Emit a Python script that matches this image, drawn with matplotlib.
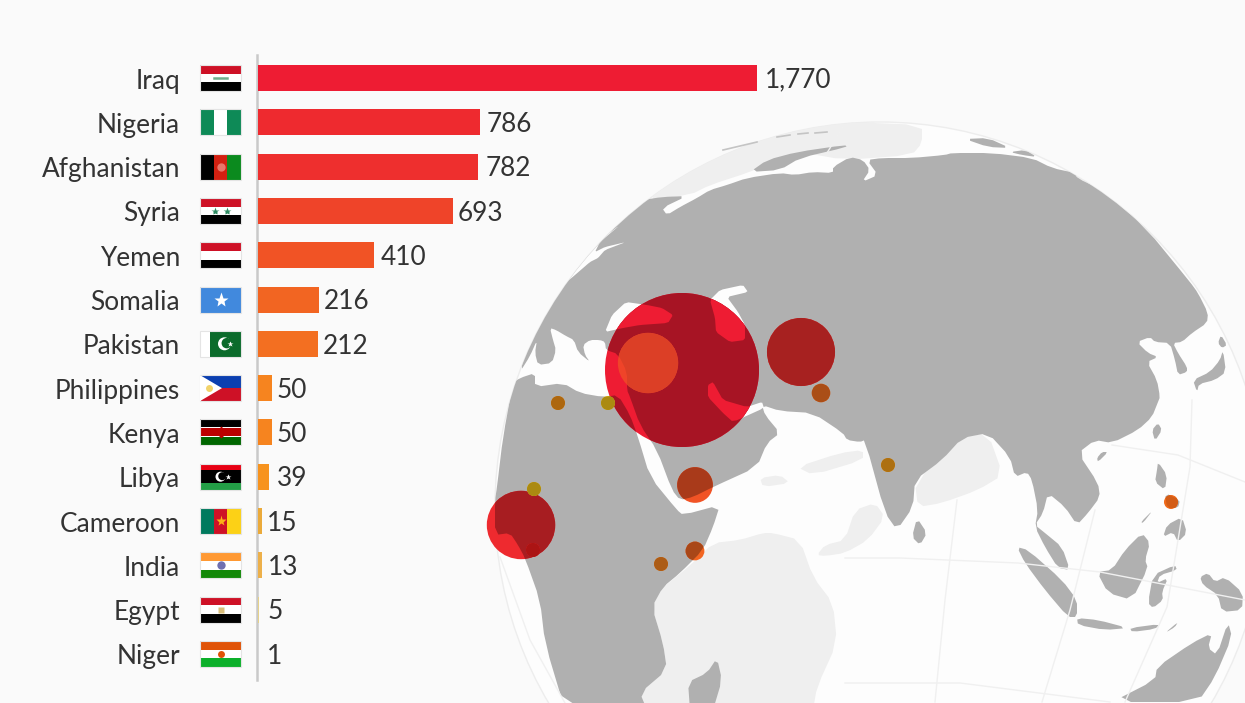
import matplotlib
matplotlib.use('Agg')
import matplotlib.pyplot as plt
from matplotlib.patches import Circle, Polygon, Rectangle

plt.rcParams['font.family'] = ['Lato', 'DejaVu Sans']

# chart data
countries = ['Iraq', 'Nigeria', 'Afghanistan', 'Syria', 'Yemen', 'Somalia', 'Pakistan',
             'Philippines', 'Kenya', 'Libya', 'Cameroon', 'India', 'Egypt', 'Niger']
values = [1770, 786, 782, 693, 410, 216, 212, 50, 50, 39, 15, 13, 5, 1]
bar_colors = ['#EE1C33', '#EE2A2F', '#EE2F2E', '#EF4429', '#F15325', '#F26522', '#F36F21',
              '#F6841F', '#F6841F', '#F7931E', '#EBAA3A', '#EDB04A', '#E6D28A', '#DDD6B8']
label_pad = [8, 7, 7, 4, 7, 5, 5, 4, 4, 8, 5, 6, 8, 9]

# bubbles on the globe, same order as countries
bubble_x = [682, 521, 801, 648, 695, 695, 821, 1171, 661, 558, 533, 888, 608, 534]
bubble_y = [370, 525, 352, 363, 485, 551, 393, 502, 564, 403, 550, 465, 403, 489]
bubble_colors = ['#EE1C33', '#EE2A2F', '#EE2F2E', '#EF4429', '#F15325', '#F26522', '#F36F21',
                 '#F06A1A', '#F6841F', '#F79315', '#EE1C1C', '#F7A01A', '#F5C518', '#F5C518']
bubble_dark = [0.7, 0.7, 0.7, 0.92, 0.7, 0.7, 0.7, 0.88, 0.7, 0.7, 0.72, 0.7, 0.7, 0.7]
bubble_order = [1, 10, 0, 3, 2, 6, 4, 5, 8, 9, 12, 11, 13, 7]

# map outlines in picture pixels
eurasia = [(528, 345), (543, 310), (562, 285), (580, 257), (613, 223), (643, 200), (662, 197), (687, 196),
           (662, 208), (667, 215), (680, 207), (697, 198), (710, 190), (727, 185), (747, 178), (780, 173),
           (795, 175), (813, 172), (833, 173), (833, 167), (850, 157), (863, 160), (870, 170), (862, 182),
           (878, 175), (867, 160), (882, 158), (912, 158), (945, 155), (952, 153), (992, 153), (1032, 158),
           (1052, 168), (1075, 173), (1077, 178), (1102, 190), (1145, 227), (1190, 282), (1198, 293),
           (1208, 313), (1207, 323), (1192, 333), (1182, 342), (1173, 343), (1178, 353), (1187, 367),
           (1187, 372), (1178, 375), (1175, 360), (1170, 343), (1155, 342), (1150, 337), (1137, 342),
           (1148, 353), (1158, 357), (1147, 362), (1157, 380), (1160, 397), (1158, 402), (1152, 417),
           (1138, 430), (1112, 443), (1095, 440), (1078, 453), (1098, 483), (1100, 497), (1088, 513),
           (1077, 525), (1065, 507), (1048, 493), (1043, 513), (1035, 525), (1045, 533), (1062, 547),
           (1070, 570), (1058, 568), (1045, 547), (1035, 527), (1038, 510), (1032, 480), (1027, 472),
           (1015, 477), (1010, 457), (988, 433), (962, 438), (942, 460), (915, 480), (913, 507), (897, 530),
           (885, 513), (865, 440), (860, 442), (847, 440), (843, 433), (813, 413), (780, 411), (762, 405),
           (765, 415), (780, 433), (767, 443), (757, 467), (713, 487), (693, 497), (680, 500), (672, 490),
           (657, 450), (640, 425), (630, 397), (627, 390), (627, 372), (618, 354), (606, 350), (605, 342),
           (600, 340), (590, 340), (583, 345), (585, 355), (590, 362), (578, 352), (574, 340), (566, 336),
           (556, 330), (550, 328), (553, 340), (556, 350), (552, 363), (538, 365), (535, 353), (537, 340),
           (530, 356), (520, 372)]
africa = [(513, 383), (520, 378), (535, 373), (535, 387), (563, 383), (580, 393), (603, 397), (618, 395),
          (630, 415), (638, 437), (650, 477), (677, 510), (683, 515), (720, 505), (713, 527), (703, 550),
          (680, 573), (663, 587), (652, 607), (663, 643), (667, 670), (640, 693), (647, 710), (565, 710),
          (545, 643), (540, 600), (525, 558), (518, 545), (510, 533), (495, 535), (495, 500), (497, 487),
          (503, 437)]
islands = [
    [(750, 172), (767, 160), (797, 152), (845, 145), (847, 147), (800, 158), (780, 170)],
    [(965, 139), (988, 138), (1010, 148), (988, 147)],
    [(1010, 152), (1025, 150), (1037, 157), (1022, 155)],
    [(1223, 350), (1226, 372), (1215, 380), (1199, 384), (1197, 392), (1193, 380), (1210, 372), (1220, 360)],
    [(1221, 335), (1227, 345), (1222, 348), (1218, 343)],
    [(917, 518), (927, 533), (920, 545), (912, 537)],
    [(1102, 452), (1108, 452), (1098, 462), (1097, 458)],
    [(1158, 423), (1162, 430), (1155, 441), (1152, 430)],
    [(1158, 462), (1167, 475), (1165, 490), (1155, 482), (1157, 470)],
    [(1165, 493), (1180, 500), (1178, 508), (1167, 508)],
    [(1182, 517), (1187, 533), (1178, 542), (1173, 532), (1163, 537), (1167, 525)],
    [(1153, 510), (1143, 523), (1141, 522)],
    [(1142, 533), (1150, 543), (1145, 560), (1148, 568), (1132, 600), (1108, 593), (1097, 572), (1112, 570),
     (1125, 550)],
    [(1017, 547), (1028, 550), (1062, 580), (1077, 600), (1077, 617), (1068, 617), (1045, 590), (1025, 563)],
    [(1077, 618), (1098, 620), (1128, 628), (1105, 630), (1078, 625)],
    [(1130, 628), (1160, 624), (1155, 629), (1132, 632)],
    [(1165, 633), (1178, 622), (1175, 627)],
    [(1148, 603), (1153, 575), (1175, 565), (1177, 570), (1160, 575), (1157, 583), (1168, 578), (1162, 592),
     (1163, 600), (1153, 608)],
    [(1200, 577), (1208, 573), (1215, 582), (1225, 577), (1243, 593), (1242, 610), (1222, 612), (1218, 595),
     (1203, 585)],
    [(1112, 702), (1155, 680), (1157, 667), (1192, 643), (1212, 633), (1208, 648), (1217, 655), (1228, 622),
     (1232, 637), (1215, 677), (1198, 702)],
    [(717, 658), (722, 680), (713, 710), (690, 710), (688, 682), (707, 673)],
]
inland_seas = [
    [(605, 332), (612, 315), (626, 302), (647, 305), (662, 308), (673, 315), (668, 323), (640, 325), (623, 328)],
    [(710, 300), (720, 290), (743, 285), (748, 292), (727, 297), (738, 312), (745, 325), (745, 340), (730, 342),
     (716, 332), (715, 318)],
    [(708, 385), (713, 382), (723, 400), (747, 407), (762, 402), (764, 408), (733, 422), (723, 413), (708, 397)],
    [(562, 286), (575, 270), (587, 253), (600, 240), (620, 225), (600, 242), (595, 252), (605, 247), (626, 242),
     (605, 250), (598, 258), (590, 262), (575, 275)],
]
far_side = [
    [(643, 200), (680, 170), (720, 148), (780, 128), (850, 122), (922, 125), (922, 143), (912, 155), (845, 160),
     (800, 152), (750, 172), (710, 185), (690, 195)],
    [(640, 693), (667, 670), (663, 643), (652, 607), (660, 590), (693, 563), (713, 543), (740, 540), (763, 533),
     (773, 533), (800, 540), (813, 577), (833, 603), (837, 643), (817, 687), (813, 710), (643, 710)],
    [(817, 555), (825, 545), (845, 540), (855, 510), (875, 503), (885, 517), (868, 540), (845, 553), (825, 556)],
    [(915, 483), (958, 438), (988, 433), (1003, 475), (978, 490), (942, 503), (918, 507)],
    [(760, 478), (780, 475), (790, 483), (763, 487)],
    [(797, 467), (840, 453), (863, 450), (863, 460), (813, 475)],
]
grid_lines = [
    [(845, 558), (900, 558), (1018, 563), (1100, 572), (1245, 600)],
    [(845, 683), (960, 683), (1110, 702)],
    [(957, 500), (945, 600), (935, 702)],
    [(1095, 510), (1070, 610), (1042, 702)],
    [(1192, 400), (1190, 467), (1167, 607), (1125, 702)],
    [(1112, 445), (1178, 455), (1245, 482)],
    [(847, 120), (827, 153)],
    [(500, 557), (530, 640), (565, 703)],
    [(500, 600), (520, 650), (545, 703)],
]

BG = '#FAFAFA'
LAND = '#B0B0B0'
FAR = '#EFEFEF'
TXT = '#333333'
row0, row_h = 78, 44.3
px_per_unit = 499 / 1770

fig = plt.figure(figsize=(12.45, 7.03), dpi=100, facecolor=BG)

# background layer in picture pixels
ax = fig.add_axes([0, 0, 1, 1])
ax.set_xlim(0, 1245)
ax.set_ylim(703, 0)
ax.axis('off')


# cut the corners once so the coasts look less angular
def soften(poly, k=0.22):
    out = []
    for a, b in zip(poly, poly[1:] + poly[:1]):
        out.append((a[0] + k * (b[0] - a[0]), a[1] + k * (b[1] - a[1])))
        out.append((b[0] - k * (b[0] - a[0]), b[1] - k * (b[1] - a[1])))
    return out


land_polys = [soften(p) for p in [eurasia, africa] + islands]
sea_polys = [soften(p, 0.12) for p in inland_seas]

globe = Circle((880, 507), 385, fc='#FDFDFD', ec='#EDEDED', lw=1)
ax.add_patch(globe)
for poly in far_side:
    p = ax.add_patch(Polygon(soften(poly), closed=True, fc=FAR, ec='none'))
    p.set_clip_path(globe)
for line in grid_lines:
    l, = ax.plot([q[0] for q in line], [q[1] for q in line], color='#F0F0F0', lw=1)
    l.set_clip_path(globe)
for poly in land_polys:
    p = ax.add_patch(Polygon(poly, closed=True, fc=LAND, ec='none'))
    p.set_clip_path(globe)
for poly in sea_polys:
    p = ax.add_patch(Polygon(poly, closed=True, fc='#FDFDFD', ec='none'))
    p.set_clip_path(globe)
# small arctic islands
for x1, y1, x2, y2 in [(723, 150, 757, 142), (777, 137, 790, 135), (798, 134, 808, 133), (815, 133, 827, 132)]:
    ax.plot([x1, x2], [y1, y2], color='#C4C4C4', lw=1.2)

# bubbles, radius follows the value with a minimum size
for i in bubble_order:
    r = max(7, values[i] * 77 / 1770)
    c = matplotlib.colors.to_rgb(bubble_colors[i])
    dark = tuple(v * bubble_dark[i] for v in c)
    b = Circle((bubble_x[i], bubble_y[i]), r, fc=c, ec='none', zorder=2)
    ax.add_patch(b)
    for poly in land_polys:
        p = Polygon(poly, closed=True, fc=dark, ec='none', zorder=2)
        ax.add_patch(p)
        p.set_clip_path(b)
    for poly in sea_polys:
        p = Polygon(poly, closed=True, fc=c, ec='none', zorder=2)
        ax.add_patch(p)
        p.set_clip_path(b)


# flags
def stripes(i, cols, vertical=False, weights=None):
    y0 = row0 + row_h * i - 13
    weights = weights or [1] * len(cols)
    total = sum(weights)
    pos = 0
    for col, w in zip(cols, weights):
        if vertical:
            ax.add_patch(Rectangle((200 + 41 * pos / total, y0), 41 * w / total, 26, fc=col, ec='none', zorder=3))
        else:
            ax.add_patch(Rectangle((200, y0 + 26 * pos / total), 41, 26 * w / total, fc=col, ec='none', zorder=3))
        pos += w
    ax.add_patch(Rectangle((200, y0), 41, 26, fc='none', ec='#E4E4E4', lw=0.8, zorder=4))


def mark(i, dx, shape, size, col):
    ax.plot(220.5 + dx, row0 + row_h * i, shape, ms=size, color=col, mec='none', zorder=5)


def crescent(i, dx, r, inner):
    y = row0 + row_h * i
    ax.add_patch(Circle((220.5 + dx, y), r, fc='white', ec='none', zorder=5))
    ax.add_patch(Circle((220.5 + dx + r * 0.35, y - r * 0.1), r * 0.8, fc=inner, ec='none', zorder=5))


stripes(0, ['#CE1126', 'white', 'black'])
ax.plot([214, 227], [78, 78], color='#6FAE8C', lw=1.8, zorder=5)
stripes(1, ['#0E8A57', 'white', '#0E8A57'], vertical=True)
stripes(2, ['black', '#D32011', '#0B8A1E'], vertical=True)
mark(2, 0, 'o', 6, '#E8776A')
stripes(3, ['#CE1126', 'white', 'black'])
mark(3, -6, '*', 6, '#2E8B62')
mark(3, 6, '*', 6, '#2E8B62')
stripes(4, ['#CE1126', 'white', 'black'])
stripes(5, ['#4189DD'])
mark(5, 0, '*', 11, 'white')
stripes(6, ['white', '#0B6B2B'], vertical=True, weights=[1, 3])
crescent(6, 4, 6.5, '#0B6B2B')
mark(6, 9, '*', 4, 'white')
stripes(7, ['#0B3FB0', '#CE1126'])
ax.add_patch(Polygon([(200, row0 + row_h * 7 - 13), (222, row0 + row_h * 7), (200, row0 + row_h * 7 + 13)],
                     closed=True, fc='white', ec='none', zorder=4))
mark(7, -12, 'o', 5, '#F2D36B')
stripes(8, ['black', 'white', '#BB0000', 'white', '#006600'], weights=[8, 1, 8, 1, 8])
mark(8, 0, 'D', 6, '#BB0000')
stripes(9, ['#E70013', 'black', '#239E46'], weights=[1, 2, 1])
crescent(9, 0, 5, 'black')
mark(9, 7, '*', 4, 'white')
stripes(10, ['#007A5E', '#CE1126', '#FCD116'], vertical=True)
mark(10, 0, '*', 8, '#FCB116')
stripes(11, ['#FF9933', 'white', '#138808'])
mark(11, 0, 'o', 6, '#6F6FB0')
stripes(12, ['#CE1126', 'white', 'black'])
mark(12, 0, 's', 4, '#D9BE7A')
stripes(13, ['#E05206', 'white', '#0DB02B'])
mark(13, 0, 'o', 5, '#E05206')

# country names
for i, name in enumerate(countries):
    ax.text(180, row0 + row_h * i + 3, name, ha='right', va='center', fontsize=18.9, color=TXT, zorder=6)

# axis line
ax.plot([257, 257], [55, 680], color='#C9C9C9', lw=1.8, zorder=3)

# bars on their own value scale
bar_ax = fig.add_axes([258 / 1245, (703 - 680) / 703, (1245 - 258) / 1245, (680 - 55) / 703])
bar_ax.patch.set_alpha(0)
bar_ax.set_xlim(0, (1245 - 258) / px_per_unit)
bar_ax.set_ylim((680 - row0) / row_h, (55 - row0) / row_h)
bar_ax.axis('off')
bar_ax.barh(range(len(values)), values, height=26 / row_h, color=bar_colors)
for i, v in enumerate(values):
    bar_ax.annotate(f'{v:,}', (v, i), xytext=(label_pad[i] * 0.72, -1.6), textcoords='offset points',
                    ha='left', va='center', fontsize=18.9, color=TXT)

fig.savefig('out.png', dpi=100, facecolor=BG)
